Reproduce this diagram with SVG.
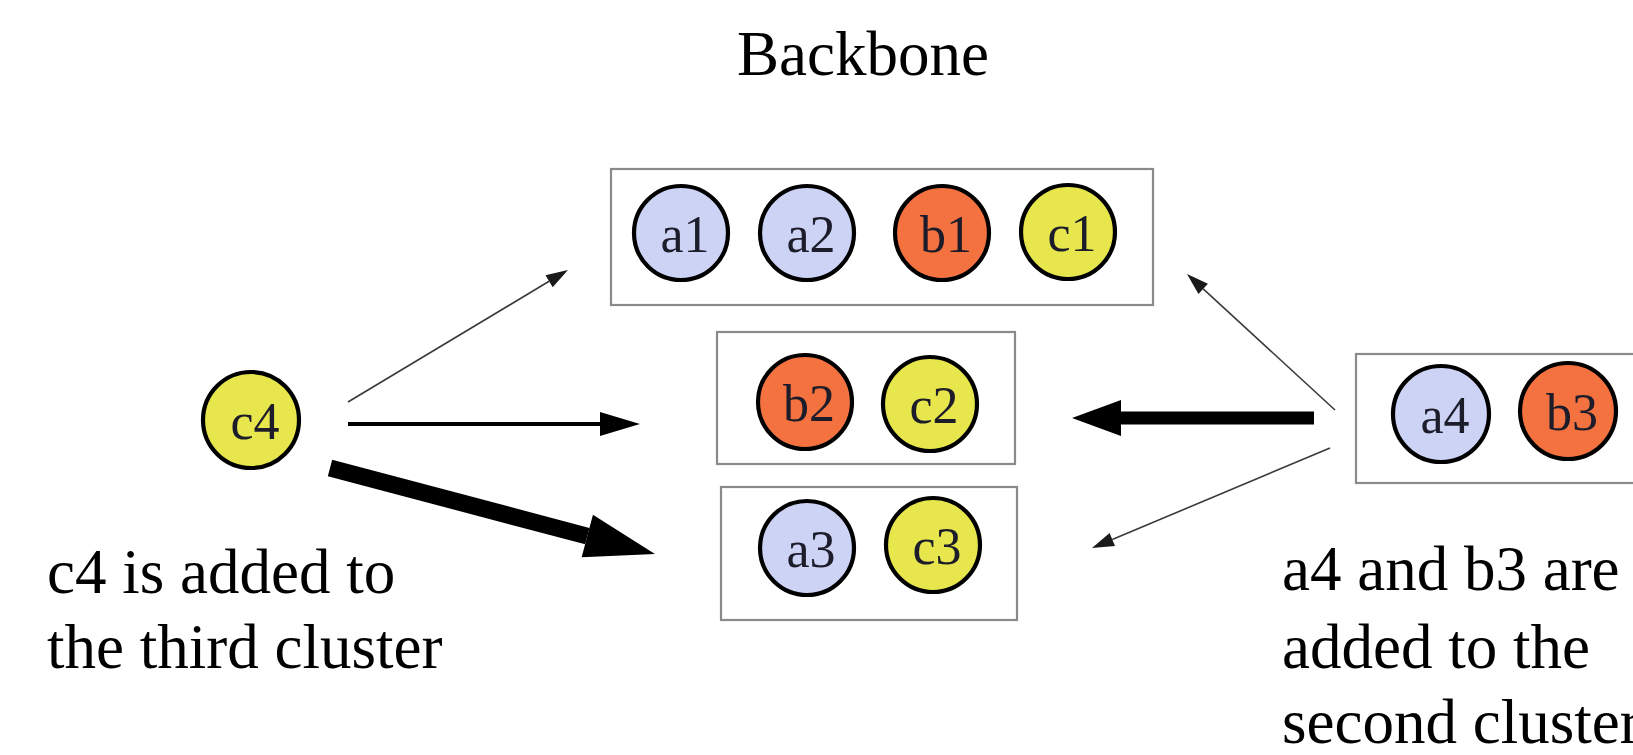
<svg xmlns="http://www.w3.org/2000/svg" width="1633" height="755" viewBox="0 0 1633 755">
  <defs>
    <style>
      .title, .note { font-family: "Liberation Serif", "Times New Roman", serif; font-size: 63px; fill: #000; }
      .cluster { fill: #fff; stroke: #8a8a8a; stroke-width: 2.2; }
      .node circle { stroke: #000; stroke-width: 4.2; }
      .node text { font-family: "Liberation Serif", "Times New Roman", serif; font-size: 52px; text-anchor: middle; fill: #1c1c2a; }
      .a circle { fill: #cdd3f5; }
      .b circle { fill: #f4723f; }
      .c circle { fill: #e7e64c; }
      .thin { stroke: #3a3a3a; stroke-width: 1.6; fill: none; }
      .mid { stroke: #000; stroke-width: 4; fill: none; }
      .thick { stroke: #000; stroke-width: 13; fill: none; }
      .thicker { stroke: #000; stroke-width: 17; fill: none; }
    </style>
    <marker id="head-thin" markerUnits="userSpaceOnUse" orient="auto" refX="0" refY="0" markerWidth="30" markerHeight="20" viewBox="0 -10 30 20" overflow="visible">
      <path d="M0,-7 L22,0 L0,7 Z" fill="#1a1a1a"/>
    </marker>
    <marker id="head-mid" markerUnits="userSpaceOnUse" orient="auto" refX="0" refY="0" markerWidth="44" markerHeight="28" viewBox="0 -14 44 28" overflow="visible">
      <path d="M0,-12 L40,0 L0,12 Z" fill="#000"/>
    </marker>
    <marker id="head-thick" markerUnits="userSpaceOnUse" orient="auto" refX="0" refY="0" markerWidth="52" markerHeight="40" viewBox="0 -20 52 40" overflow="visible">
      <path d="M0,-18 L49,0 L0,18 Z" fill="#000"/>
    </marker>
    <marker id="head-thicker" markerUnits="userSpaceOnUse" orient="auto" refX="0" refY="0" markerWidth="74" markerHeight="48" viewBox="0 -24 74 48" overflow="visible">
      <path d="M0,-22 L70,0 L0,22 Z" fill="#000"/>
    </marker>
  </defs>

  <rect width="1633" height="755" fill="#fff"/>

  <text class="title" x="863" y="75" text-anchor="middle">Backbone</text>

  <!-- clusters -->
  <g id="cluster-backbone">
    <rect class="cluster" x="611" y="169" width="542" height="136"/>
  </g>
  <g id="cluster-second">
    <rect class="cluster" x="717" y="332" width="298" height="132"/>
  </g>
  <g id="cluster-third">
    <rect class="cluster" x="721" y="487" width="296" height="133"/>
  </g>
  <g id="cluster-new">
    <rect class="cluster" x="1356" y="354" width="300" height="129"/>
  </g>

  <!-- nodes -->
  <g id="node-a1" class="node a"><circle cx="681" cy="233" r="47"/><text x="685" y="252">a1</text></g>
  <g id="node-a2" class="node a"><circle cx="807" cy="233" r="47"/><text x="811" y="252">a2</text></g>
  <g id="node-b1" class="node b"><circle cx="942" cy="233" r="47"/><text x="946" y="252">b1</text></g>
  <g id="node-c1" class="node c"><circle cx="1068" cy="232" r="47"/><text x="1072" y="251">c1</text></g>

  <g id="node-b2" class="node b"><circle cx="805" cy="402" r="47"/><text x="809" y="421">b2</text></g>
  <g id="node-c2" class="node c"><circle cx="930" cy="404" r="47"/><text x="934" y="423">c2</text></g>

  <g id="node-a3" class="node a"><circle cx="807" cy="548" r="47"/><text x="811" y="567">a3</text></g>
  <g id="node-c3" class="node c"><circle cx="933" cy="545" r="47"/><text x="937" y="564">c3</text></g>

  <g id="node-c4" class="node c"><circle cx="251" cy="420" r="48"/><text x="255" y="439">c4</text></g>

  <g id="node-a4" class="node a"><circle cx="1441" cy="414" r="48"/><text x="1445" y="433">a4</text></g>
  <g id="node-b3" class="node b"><circle cx="1568" cy="411" r="48"/><text x="1572" y="430">b3</text></g>

  <!-- connectors -->
  <g id="connectors">
    <line class="thin" x1="348" y1="402" x2="549.1" y2="281.3" marker-end="url(#head-thin)"/>
    <line class="mid" x1="348" y1="424" x2="600" y2="424" marker-end="url(#head-mid)"/>
    <line class="thicker" x1="330" y1="468" x2="587.3" y2="536.1" marker-end="url(#head-thicker)"/>
    <line class="thin" x1="1335" y1="410" x2="1203.2" y2="288.9" marker-end="url(#head-thin)"/>
    <line class="thick" x1="1314" y1="418" x2="1121" y2="418" marker-end="url(#head-thick)"/>
    <line class="thin" x1="1330" y1="448" x2="1112.3" y2="539.5" marker-end="url(#head-thin)"/>
  </g>

  <!-- captions -->
  <text class="note" x="47" y="593">c4 is added to</text>
  <text class="note" x="47" y="668">the third cluster</text>

  <text class="note" x="1282" y="590">a4 and b3 are</text>
  <text class="note" x="1282" y="668">added to the</text>
  <text class="note" x="1282" y="743">second cluster</text>
</svg>
